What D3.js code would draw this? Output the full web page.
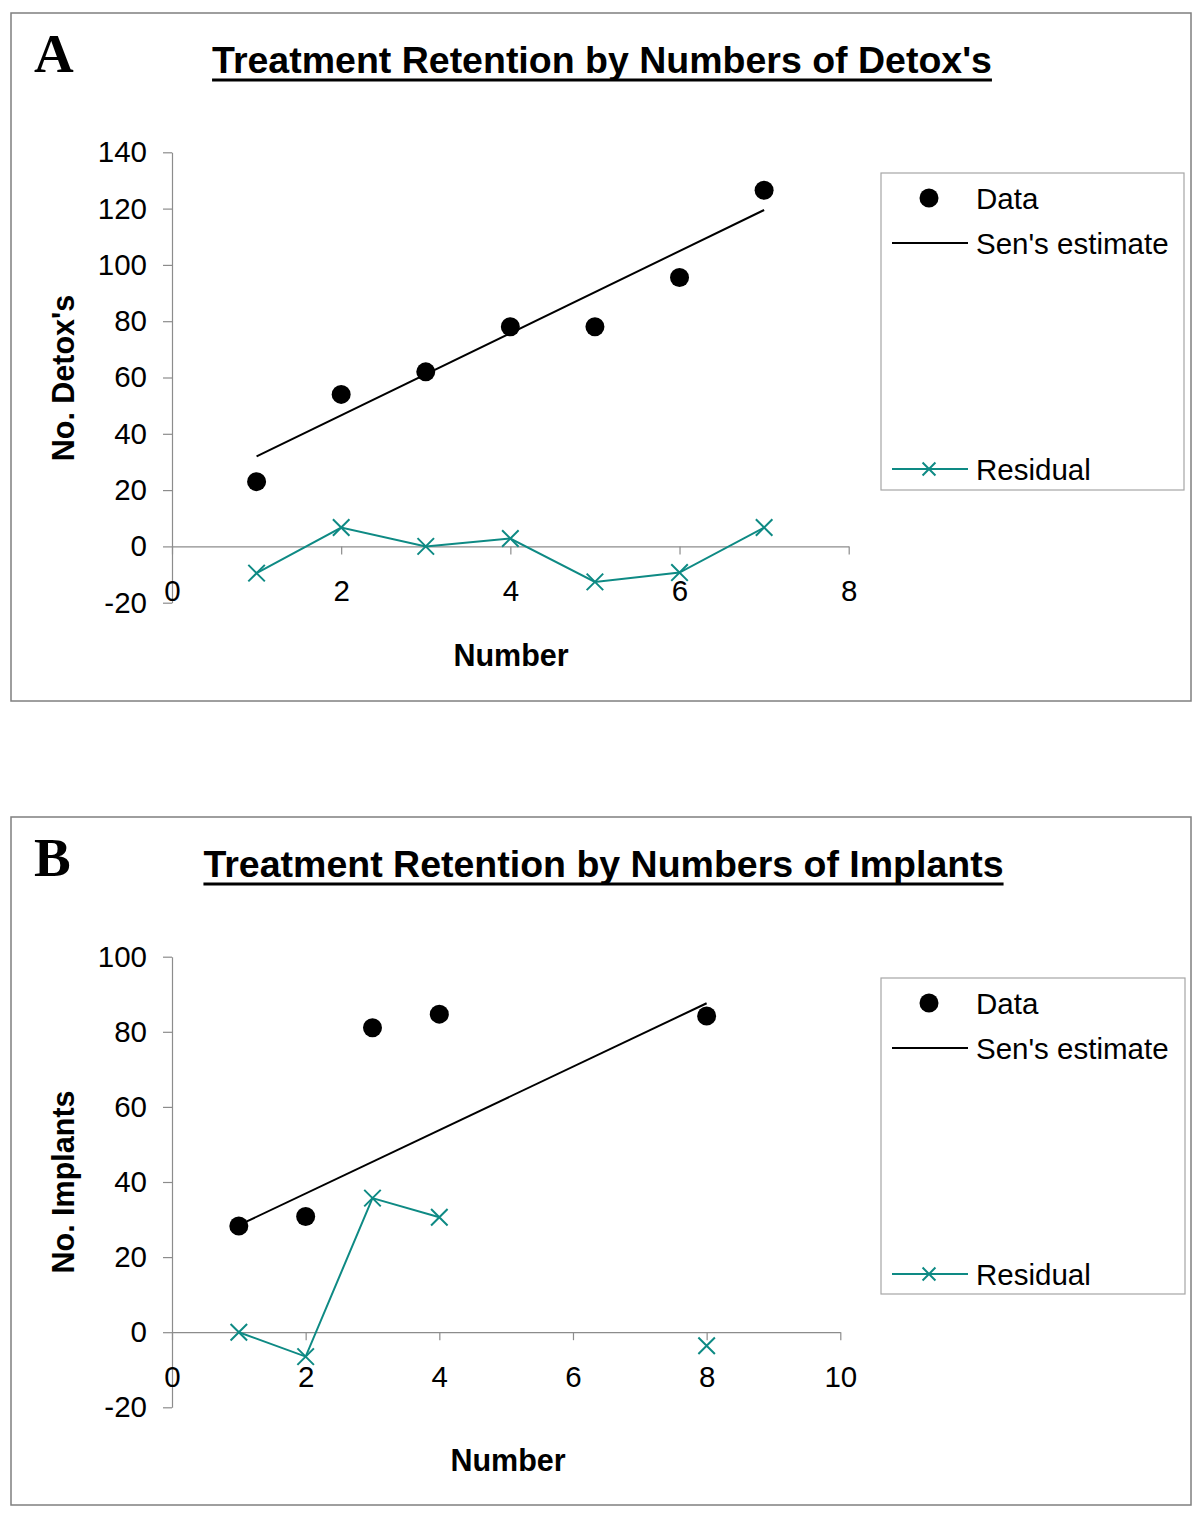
<!DOCTYPE html>
<html>
<head>
<meta charset="utf-8">
<script src="https://cdn.jsdelivr.net/npm/d3@7"></script>
<style>
  html, body { margin: 0; padding: 0; background: #fff; }
  svg { display: block; }
</style>
</head>
<body>
<svg id="chart" width="1200" height="1516"></svg>
<script>
// ---------- DATA ----------
// Panel A
const titleA = "Treatment Retention by Numbers of Detox's";
const yLabelA = "No. Detox's";
const xA_vals = [1, 2, 3, 4, 5, 6, 7];
const dataA = [23, 54, 62, 78, 78, 95.5, 126.5];
const senA_x = [1, 7];
const senA_y = [32, 119.5];
const residA = [-9.5, 6.7, 0, 2.8, -12.6, -9.3, 6.7];
const xTicksA = [0, 2, 4, 6, 8];
const yTicksA = [-20, 0, 20, 40, 60, 80, 100, 120, 140];

// Panel B
const titleB = "Treatment Retention by Numbers of Implants";
const yLabelB = "No. Implants";
const xB_vals = [1, 2, 3, 4, 8];
const dataB = [28.3, 30.8, 81.1, 84.7, 84.2];
const senB_x = [1, 8];
const senB_y = [28.5, 87.6];
const residB_x = [1, 2, 3, 4, 5, 6, 7, 8];
const residB = [0, -6.5, 35.7, 30.6, null, null, null, -3.6];
const xTicksB = [0, 2, 4, 6, 8, 10];
const yTicksB = [-20, 0, 20, 40, 60, 80, 100];

const legendLabels = ["Data", "Sen's estimate", "Residual"];
const xLabel = "Number";

// ---------- STYLE ----------
const TEAL = "#0e8a84";
const AXIS = "#8c8c8c";
const SANS = "'Liberation Sans', Arial, sans-serif";
const SERIF = "'Liberation Serif', 'Times New Roman', serif";
const svg = d3.select("#chart");

function panel(cfg) {
  const g = svg.append("g").style("font-family", SANS);
  // outer frame
  g.append("rect").attr("x", cfg.frame[0]).attr("y", cfg.frame[1])
    .attr("width", cfg.frame[2]).attr("height", cfg.frame[3])
    .attr("fill", "none").attr("stroke", "#7f7f7f").attr("stroke-width", 1.5);

  // panel letter
  g.append("text").attr("x", 34).attr("y", cfg.letterY)
    .style("font-family", SERIF)
    .attr("font-weight", "bold").attr("font-size", 55)
    .attr("fill", "#000").text(cfg.letter);

  // title
  const t = g.append("text").attr("x", cfg.titleX).attr("y", cfg.titleY)
    .attr("text-anchor", "middle").attr("font-weight", "bold")
    .attr("font-size", 37.5).attr("fill", "#000").text(cfg.title);
  const tw = t.node().getComputedTextLength();
  g.append("line").attr("x1", cfg.titleX - tw / 2).attr("x2", cfg.titleX + tw / 2)
    .attr("y1", cfg.titleY + 7).attr("y2", cfg.titleY + 7)
    .attr("stroke", "#000").attr("stroke-width", 3);

  const x = cfg.x, y = cfg.y;

  // y axis
  const ya = g.append("g").attr("transform", `translate(${x(0)},0)`)
    .call(d3.axisLeft(y).tickValues(cfg.yTicks).tickFormat(d => String(d))
      .tickSize(9).tickSizeOuter(0).tickPadding(16));
  ya.selectAll("path, line").attr("stroke", AXIS).attr("stroke-width", 1.2);
  ya.selectAll("text").attr("font-size", 29.5).attr("fill", "#000").style("font-family", SANS);

  // x axis at y=0
  const xa = g.append("g").attr("transform", `translate(0,${y(0)})`)
    .call(d3.axisBottom(x).tickValues(cfg.xTicks).tickFormat(d => String(d))
      .tickSize(8).tickSizeOuter(0));
  xa.selectAll("path, line").attr("stroke", AXIS).attr("stroke-width", 1.2);
  xa.selectAll("text").attr("font-size", 29.5).attr("fill", "#000").style("font-family", SANS)
    .attr("y", 44).attr("dy", "0.35em");

  // axis titles
  g.append("text").attr("x", cfg.xLabelPos[0]).attr("y", cfg.xLabelPos[1])
    .attr("text-anchor", "middle").attr("dominant-baseline", "central")
    .attr("font-weight", "bold").attr("font-size", 30.5).text(xLabel);
  g.append("text")
    .attr("transform", `translate(${cfg.yLabelPos[0]},${cfg.yLabelPos[1]}) rotate(-90)`)
    .attr("text-anchor", "middle").attr("dominant-baseline", "central")
    .attr("font-weight", "bold").attr("font-size", 30.5).text(cfg.yLabel);

  // Sen's estimate line
  const senPts = cfg.senX.map((d, i) => [d, cfg.senY[i]]);
  g.append("path").datum(senPts)
    .attr("d", d3.line().x(d => x(d[0])).y(d => y(d[1])))
    .attr("fill", "none").attr("stroke", "#000").attr("stroke-width", 2);

  // Residual line (gaps where null)
  const resPts = cfg.resX.map((d, i) => [d, cfg.res[i]]);
  g.append("path").datum(resPts)
    .attr("d", d3.line().defined(d => d[1] != null).x(d => x(d[0])).y(d => y(d[1])))
    .attr("fill", "none").attr("stroke", TEAL).attr("stroke-width", 2);
  const cross = d3.symbol().type(d3.symbolX).size(180);
  g.selectAll(".res").data(resPts.filter(d => d[1] != null)).join("path")
    .attr("transform", d => `translate(${x(d[0])},${y(d[1])})`)
    .attr("d", cross()).attr("fill", "none").attr("stroke", TEAL).attr("stroke-width", 2);

  // Data points
  const dataPts = cfg.dataX.map((d, i) => [d, cfg.data[i]]);
  g.selectAll(".dot").data(dataPts).join("circle")
    .attr("cx", d => x(d[0])).attr("cy", d => y(d[1])).attr("r", 9.5).attr("fill", "#000");

  // Legend
  const L = cfg.legend;
  g.append("rect").attr("x", L[0]).attr("y", L[1]).attr("width", L[2]).attr("height", L[3])
    .attr("fill", "#fff").attr("stroke", "#a6a6a6").attr("stroke-width", 1.2);
  const lx = L[0], ly = L[1];
  const rows = [ly + 25, ly + 70, ly + 296];
  // Data
  g.append("circle").attr("cx", lx + 48).attr("cy", rows[0]).attr("r", 9.5).attr("fill", "#000");
  // Sen
  g.append("line").attr("x1", lx + 11).attr("x2", lx + 87).attr("y1", rows[1]).attr("y2", rows[1])
    .attr("stroke", "#000").attr("stroke-width", 2);
  // Residual
  g.append("line").attr("x1", lx + 11).attr("x2", lx + 87).attr("y1", rows[2]).attr("y2", rows[2])
    .attr("stroke", TEAL).attr("stroke-width", 2);
  g.append("path").attr("transform", `translate(${lx + 48},${rows[2]})`)
    .attr("d", d3.symbol().type(d3.symbolX).size(110)()).attr("fill", "none")
    .attr("stroke", TEAL).attr("stroke-width", 2);
  legendLabels.forEach((lab, i) => {
    g.append("text").attr("x", lx + 95).attr("y", rows[i])
      .attr("dominant-baseline", "central").attr("font-size", 29.5).attr("fill", "#000").text(lab);
  });
}

panel({
  frame: [11, 13, 1180, 688],
  letter: "A", letterY: 72,
  title: titleA, titleX: 602, titleY: 73,
  x: d3.scaleLinear().domain([0, 8]).range([172, 848.7]),
  y: d3.scaleLinear().domain([-20, 140]).range([602.7, 152.3]),
  xTicks: xTicksA, yTicks: yTicksA,
  xLabelPos: [511, 655], yLabelPos: [63, 378], yLabel: yLabelA,
  dataX: xA_vals, data: dataA,
  senX: senA_x, senY: senA_y,
  resX: xA_vals, res: residA,
  legend: [881, 173, 303, 317]
});

panel({
  frame: [11, 817, 1180, 688],
  letter: "B", letterY: 876,
  title: titleB, titleX: 603.5, titleY: 877,
  x: d3.scaleLinear().domain([0, 10]).range([172, 840.3]),
  y: d3.scaleLinear().domain([-20, 100]).range([1407.3, 956.7]),
  xTicks: xTicksB, yTicks: yTicksB,
  xLabelPos: [508, 1460], yLabelPos: [63, 1182], yLabel: yLabelB,
  dataX: xB_vals, data: dataB,
  senX: senB_x, senY: senB_y,
  resX: residB_x, res: residB,
  legend: [881, 978, 304, 316]
});
</script>
</body>
</html>
